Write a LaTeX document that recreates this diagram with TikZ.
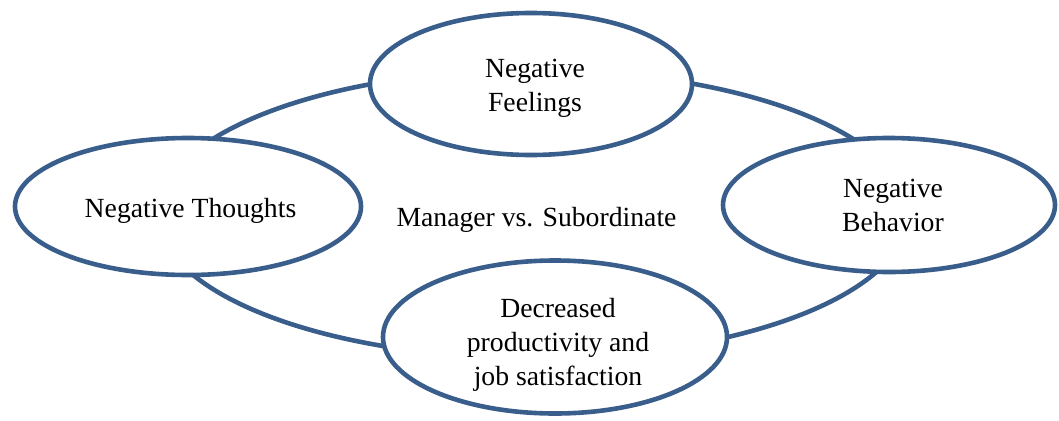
\documentclass[tikz,border=0pt]{standalone}
\usepackage{fontspec}
\setmainfont{Liberation Serif}
\usetikzlibrary{shapes.geometric}
\definecolor{ringblue}{RGB}{58,94,140}
\begin{document}
\begin{tikzpicture}[x=1pt,y=-1pt,
  ring/.style={draw=ringblue,line width=4.6pt},
  bubble/.style={ellipse,draw=ringblue,line width=4.6pt,fill=white,
    inner sep=0pt,outer sep=0pt},
  caption/.style={inner sep=0pt,outer sep=0pt,align=center,
    font=\fontsize{27.7}{34}\selectfont}]
\useasboundingbox (0,0) rectangle (1059,420);
% central ring linking the four stages
\coordinate (hub) at (533,214);
\draw[ring] (hub) ellipse [x radius=375pt,y radius=144pt];
% stage bubbles
\node[bubble,minimum width=322pt,minimum height=142pt] (feel) at (531,84) {};
\node[bubble,minimum width=346pt,minimum height=137pt] (thou) at (188,206.5) {};
\node[bubble,minimum width=332pt,minimum height=134pt] (beh) at (889,205) {};
\node[bubble,minimum width=344pt,minimum height=153pt] (dec) at (555,337) {};
% captions
\node[caption] (feelt) at (535,88.6) {Negative\\Feelings};
\node[caption] (thout) at (190.5,210.5) {Negative Thoughts};
\node[caption] (mgr) at (536.5,219.5) {Manager vs. Subordinate};
\node[caption] (beht) at (893,205.5) {Negative\\Behavior};
\node[caption] (dect) at (558,344.5) {Decreased\\productivity and\\job satisfaction};
\end{tikzpicture}
\end{document}
